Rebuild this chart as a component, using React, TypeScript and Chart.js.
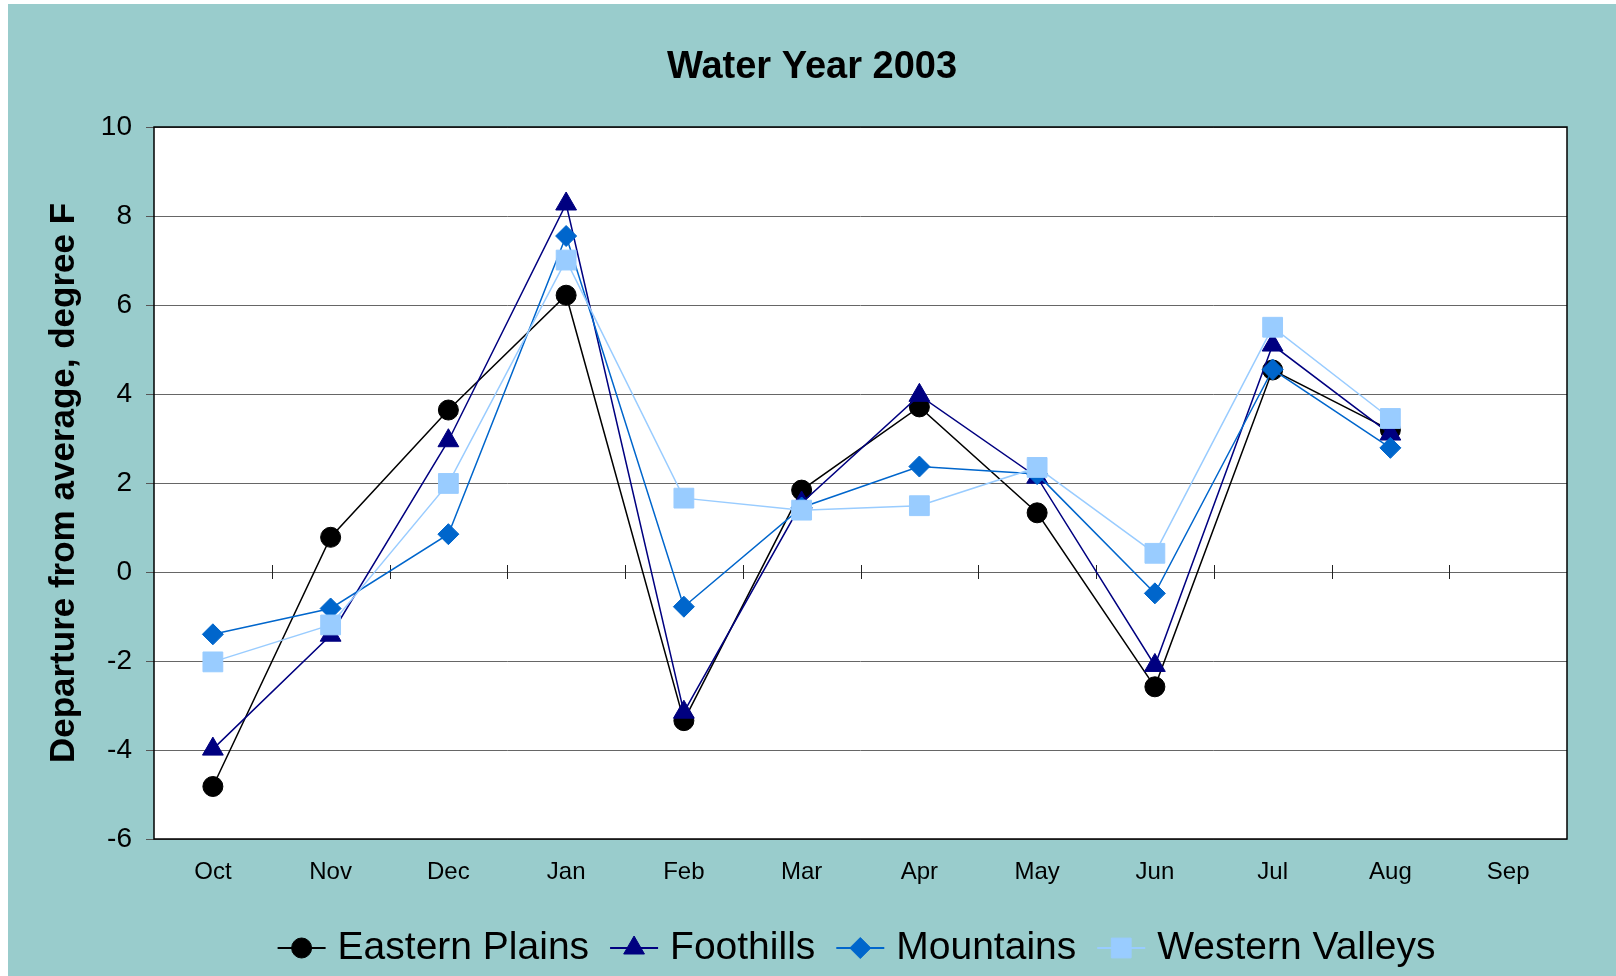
import React, { useEffect, useRef } from "react";
import { Chart, registerables } from "chart.js";

Chart.register(...registerables);

const FONT = "'Liberation Sans', Arial, sans-serif";

const months = ["Oct", "Nov", "Dec", "Jan", "Feb", "Mar", "Apr", "May", "Jun", "Jul", "Aug", "Sep"];
const seriesNames = ["Eastern Plains", "Foothills", "Mountains", "Western Valleys"];
const easternPlains = [-4.82, 0.78, 3.64, 6.22, -3.34, 1.84, 3.71, 1.33, -2.58, 4.54, 3.19, null];
const foothills = [-3.98, -1.42, 2.95, 8.27, -3.15, 1.55, 3.97, 2.13, -2.1, 5.1, 3.1, null];
const mountains = [-1.4, -0.82, 0.85, 7.55, -0.78, 1.45, 2.37, 2.2, -0.48, 4.55, 2.79, null];
const westernValleys = [-2.02, -1.19, 1.99, 7.01, 1.66, 1.39, 1.49, 2.35, 0.42, 5.5, 3.45, null];
const yMin = -6;
const yMax = 10;
const yStep = 2;

const seriesColors = ["#000000", "#000080", "#0066CC", "#99CCFF"];
const seriesStyles = ["circle", "triangle", "rectRot", "rect"];
const seriesRadius = [10, 12, 10.5, 14];

function drawMarker(ctx: CanvasRenderingContext2D, style: string, x: number, y: number, r: number, color: string) {
  ctx.save();
  ctx.fillStyle = color;
  ctx.strokeStyle = color;
  ctx.lineWidth = 1;
  ctx.beginPath();
  if (style === "circle") {
    ctx.arc(x, y, r, 0, Math.PI * 2);
  } else if (style === "triangle") {
    let a = 0;
    ctx.moveTo(x + Math.sin(a) * r, y - Math.cos(a) * r);
    a += (2 * Math.PI) / 3;
    ctx.lineTo(x + Math.sin(a) * r, y - Math.cos(a) * r);
    a += (2 * Math.PI) / 3;
    ctx.lineTo(x + Math.sin(a) * r, y - Math.cos(a) * r);
    ctx.closePath();
  } else if (style === "rectRot") {
    ctx.moveTo(x - r, y);
    ctx.lineTo(x, y - r);
    ctx.lineTo(x + r, y);
    ctx.lineTo(x, y + r);
    ctx.closePath();
  } else {
    const s = r * Math.SQRT1_2;
    ctx.rect(x - s, y - s, 2 * s, 2 * s);
  }
  ctx.fill();
  ctx.stroke();
  ctx.restore();
}

const framePlugin = {
  id: "frame",
  beforeDraw(chart: any) {
    const { ctx, chartArea } = chart;
    ctx.save();
    ctx.fillStyle = "#ffffff";
    ctx.fillRect(chartArea.left, chartArea.top, chartArea.right - chartArea.left, chartArea.bottom - chartArea.top);
    ctx.restore();
  },
  beforeDatasetsDraw(chart: any) {
    const { ctx, chartArea, scales } = chart;
    const xs = scales.x;
    const ys = scales.y;
    ctx.save();
    ctx.strokeStyle = "#222222";
    ctx.lineWidth = 1;
    const y0 = Math.round(ys.getPixelForValue(0));
    for (let i = 1; i < months.length; i++) {
      const bx = Math.round((xs.getPixelForValue(i - 1) + xs.getPixelForValue(i)) / 2) + 0.5;
      ctx.beginPath();
      ctx.moveTo(bx, y0 - 7);
      ctx.lineTo(bx, y0 + 7);
      ctx.stroke();
    }
    ctx.strokeStyle = "#000000";
    ctx.lineWidth = 1.5;
    ctx.strokeRect(chartArea.left, chartArea.top, chartArea.right - chartArea.left, chartArea.bottom - chartArea.top);
    ctx.restore();
  },
};

const legendPlugin = {
  id: "customLegend",
  afterDraw(chart: any, _args: any, opts: any) {
    const { ctx, chartArea } = chart;
    ctx.save();
    ctx.font = `${opts.fontSize}px ${FONT}`;
    ctx.textBaseline = "middle";
    ctx.textAlign = "left";
    const datasets = chart.data.datasets;
    const widths = datasets.map((ds: any) => ctx.measureText(ds.label).width);
    const lineLen = opts.lineLength;
    const gapText = opts.textGap;
    const gapItem = opts.itemGap;
    let total = 0;
    widths.forEach((w: number) => (total += lineLen + gapText + w));
    total += gapItem * (datasets.length - 1);
    let x = (chartArea.left + chartArea.right) / 2 - total / 2 + opts.shift;
    const y = opts.y;
    datasets.forEach((ds: any, i: number) => {
      ctx.strokeStyle = ds.borderColor;
      ctx.lineWidth = 2;
      ctx.beginPath();
      ctx.moveTo(x, y);
      ctx.lineTo(x + lineLen, y);
      ctx.stroke();
      drawMarker(ctx, ds.pointStyle, x + lineLen / 2, y, ds.pointRadius, ds.pointBackgroundColor);
      ctx.fillStyle = "#000000";
      ctx.fillText(ds.label, x + lineLen + gapText, y);
      x += lineLen + gapText + widths[i] + gapItem;
    });
    ctx.restore();
  },
};

export default function App() {
  const canvasRef = useRef<HTMLCanvasElement | null>(null);

  useEffect(() => {
    if (!canvasRef.current) return;
    const allData = [easternPlains, foothills, mountains, westernValleys];
    const datasets = seriesNames.map((name, i) => ({
      label: name,
      data: allData[i],
      borderColor: seriesColors[i],
      backgroundColor: seriesColors[i],
      borderWidth: 1.5,
      pointStyle: seriesStyles[i],
      pointRadius: seriesRadius[i],
      pointBackgroundColor: seriesColors[i],
      pointBorderColor: seriesColors[i],
      pointBorderWidth: 1,
      tension: 0,
      fill: false,
      order: seriesNames.length - i,
    }));
    const chart = new Chart(canvasRef.current, {
      type: "line",
      data: { labels: months, datasets: datasets as any },
      options: {
        responsive: false,
        maintainAspectRatio: false,
        animation: false,
        events: [],
        layout: { padding: { left: 0, right: 0, top: 0, bottom: 77 } },
        plugins: {
          legend: { display: false },
          tooltip: { enabled: false },
          title: {
            display: true,
            text: "Water Year 2003",
            color: "#000000",
            font: { family: FONT, size: 38, weight: "bold", lineHeight: 1.2 },
            padding: { top: 41, bottom: 36.4 },
          },
          customLegend: { y: 944, fontSize: 39, lineLength: 48, textGap: 12, itemGap: 21, shift: -4 },
        } as any,
        scales: {
          x: {
            type: "category",
            offset: true,
            grid: { display: false, drawTicks: false },
            border: { display: false },
            ticks: { color: "#000000", font: { family: FONT, size: 24 }, padding: 19, autoSkip: false, maxRotation: 0 },
            afterFit: (s: any) => {
              s.height = 60;
            },
          },
          y: {
            min: yMin,
            max: yMax,
            ticks: { stepSize: yStep, color: "#000000", font: { family: FONT, size: 28 }, padding: 14 },
            grid: { color: "#666666", lineWidth: 1, tickLength: 8, tickColor: "#555555" },
            border: { display: false },
            title: {
              display: true,
              text: "Departure from average, degree F",
              color: "#000000",
              font: { family: FONT, size: 35, weight: "bold", lineHeight: 1.2 },
              padding: { top: 35, bottom: 0 },
            },
            afterFit: (s: any) => {
              s.width = 146;
            },
          },
          y2: {
            position: "right",
            display: true,
            grid: { display: false, drawTicks: false },
            ticks: { display: false },
            border: { display: false },
            afterFit: (s: any) => {
              s.width = 49;
            },
          },
        } as any,
      },
      plugins: [framePlugin, legendPlugin],
    });
    return () => chart.destroy();
  }, []);

  return (
    <div style={{ position: "absolute", left: 8, top: 4, width: 1608, height: 972, background: "#99CCCC" }}>
      <canvas ref={canvasRef} width={1608} height={972} style={{ display: "block" }} />
    </div>
  );
}
